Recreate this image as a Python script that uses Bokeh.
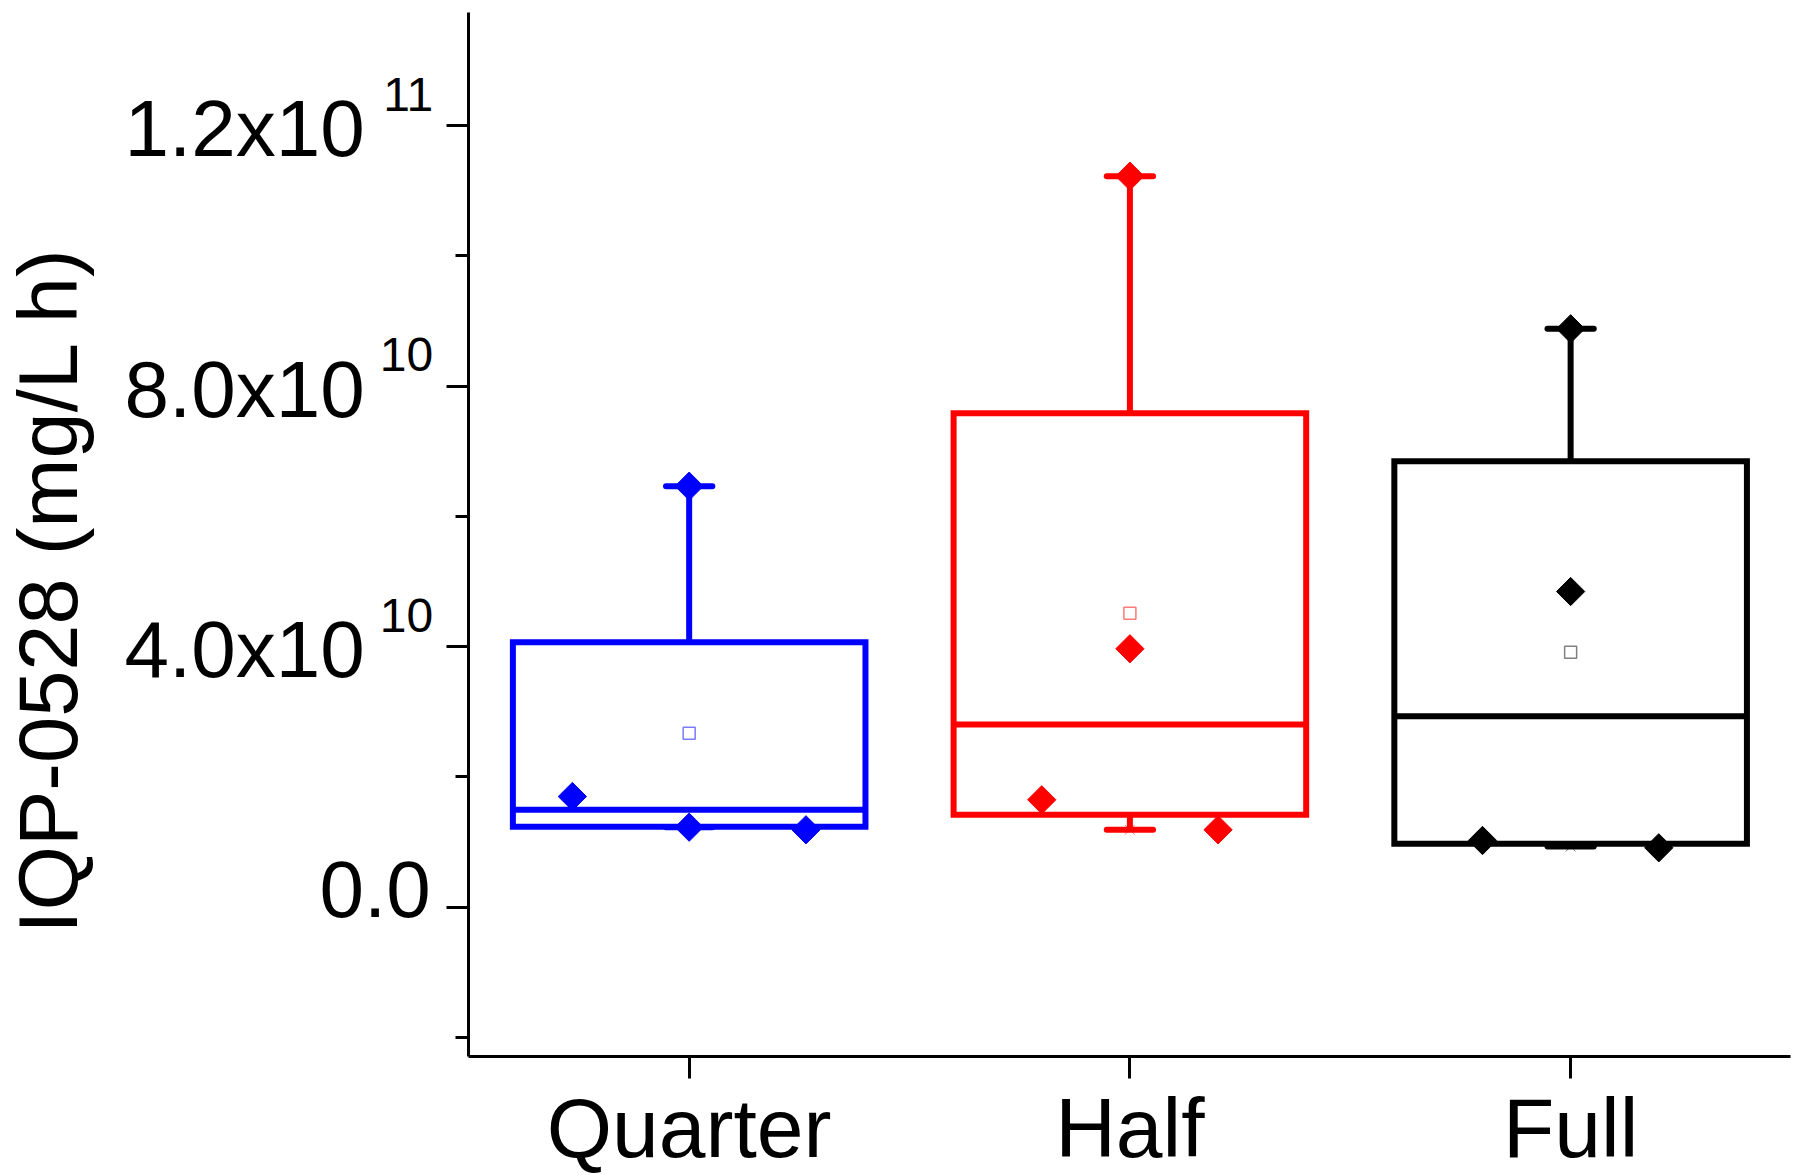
import numpy as np
from bokeh.plotting import figure
from bokeh.models import Range1d, FixedTicker, Label, ColumnDataSource, LinearAxis
from bokeh.embed import file_html
from bokeh.resources import INLINE

# ---------------- data ----------------
categories = ["Quarter", "Half", "Full"]
box_colors = ["#0000ff", "#ff0000", "#000000"]
mean_colors = ["#7a7aff", "#ff7a7a", "#808080"]

q1 = [1.235e10, 1.418e10, 9.73e9]
median = [1.495e10, 2.805e10, 2.932e10]
q3 = [4.068e10, 7.583e10, 6.847e10]
whisker_low = [1.228e10, 1.188e10, 9.3e9]
whisker_high = [6.463e10, 1.1222e11, 8.879e10]
mean = [2.671e10, 4.513e10, 3.914e10]

quarter_points = [6.463e10, 1.699e10, 1.228e10, 1.188e10]
quarter_jitter = [0.0, -0.265, 0.0, 0.265]
half_points = [1.1222e11, 3.967e10, 1.649e10, 1.188e10]
half_jitter = [0.0, 0.0, -0.2, 0.2]
full_points = [8.879e10, 4.846e10, 1.024e10, 9.12e9]
full_jitter = [0.0, 0.0, -0.2, 0.2]

y_ticks = [0, 4e10, 8e10, 1.2e11]
y_minor_ticks = [-2e10, 2e10, 6e10, 1e11]
y_tick_mantissa = ["0.0", "4.0", "8.0", "1.2"]
y_tick_exponent = ["", "10", "10", "11"]
y_title = "IQP-0528 (mg/L h)"

# ---------------- layout constants ----------------
# visible axes extents (data units)
AX_X0, AX_X1 = 0.5, 3.5
AX_Y0, AX_Y1 = -2.29e10, 1.3734e11
# whole-figure frame ranges (so that texts outside the axes are not clipped)
X_RANGE = (-0.56256, 3.52156)
Y_RANGE = (-4.1187e10, 1.39187e11)
TITLE_Y = 4.87e10
BOX_W = 0.8
CAP_W = 0.105
FONT = "Liberation Sans"

p = figure(width=1800, height=1175,
           x_range=Range1d(*X_RANGE), y_range=Range1d(*Y_RANGE),
           x_axis_location=None, y_axis_location=None,
           output_backend="svg", toolbar_location=None,
           min_border_left=0, min_border_right=0,
           min_border_top=0, min_border_bottom=0)
p.grid.visible = False
p.outline_line_color = None
p.background_fill_color = "white"
p.border_fill_color = "white"

cat_x = [i + 1 for i in range(len(categories))]

yax = LinearAxis(fixed_location=AX_X0, bounds=(AX_Y0, AX_Y1),
                 ticker=FixedTicker(ticks=y_ticks, minor_ticks=y_minor_ticks))
xax = LinearAxis(fixed_location=AX_Y0, bounds=(AX_X0, AX_X1),
                 ticker=FixedTicker(ticks=cat_x, minor_ticks=[]))
for ax in (xax, yax):
    ax.axis_line_width = 3
    ax.axis_line_color = "black"
    ax.major_tick_line_width = 3
    ax.minor_tick_line_width = 3
    ax.major_tick_out = 22
    ax.major_tick_in = 0
    ax.minor_tick_in = 0
    ax.major_label_text_color = None
    ax.major_label_text_font_size = "1px"
    ax.major_label_standoff = 0
yax.minor_tick_out = 13
xax.minor_tick_line_color = None
p.add_layout(yax, "left")
p.add_layout(xax, "below")

# boxes
src = ColumnDataSource(dict(
    x=cat_x,
    left=[c - BOX_W / 2 for c in cat_x],
    right=[c + BOX_W / 2 for c in cat_x],
    cap_l=[c - CAP_W / 2 for c in cat_x],
    cap_r=[c + CAP_W / 2 for c in cat_x],
    q1=q1, q3=q3, med=median, lo=whisker_low, hi=whisker_high,
    mean=mean, color=box_colors, mcolor=mean_colors,
))

p.segment(x0="x", y0="q3", x1="x", y1="hi", source=src, line_color="color", line_width=6)
p.segment(x0="x", y0="q1", x1="x", y1="lo", source=src, line_color="color", line_width=6)
p.segment(x0="cap_l", y0="hi", x1="cap_r", y1="hi", source=src, line_color="color",
          line_width=6, line_cap="round")
p.segment(x0="cap_l", y0="lo", x1="cap_r", y1="lo", source=src, line_color="color",
          line_width=6, line_cap="round")
p.quad(left="left", right="right", bottom="q1", top="q3", source=src,
       fill_color=None, line_color="color", line_width=6, line_join="miter")
p.segment(x0="left", y0="med", x1="right", y1="med", source=src, line_color="color", line_width=6)

# min/max markers
p.scatter(x="x", y="lo", source=src, marker="x", size=14, line_color="color",
          line_width=1, line_alpha=0.5)

# mean markers
p.scatter(x="x", y="mean", source=src, marker="square", size=12, fill_color="white",
          line_color="mcolor", line_width=1.5)

# data points
groups = [(quarter_points, quarter_jitter), (half_points, half_jitter), (full_points, full_jitter)]
for c, col, (pts, jit) in zip(cat_x, box_colors, groups):
    p.scatter(x=[c + j for j in jit], y=pts, marker="square", angle=np.pi / 4,
              size=20, fill_color=col, line_color=col, line_width=1)

# y tick labels (with superscript exponents)
for t, m, e in zip(y_ticks, y_tick_mantissa, y_tick_exponent):
    if e:
        p.add_layout(Label(x=AX_X0, y=t, text=f"{m}x10", x_offset=-104, y_offset=-3.3,
                           text_align="right", text_baseline="alphabetic",
                           text_font=FONT, text_font_size="80px", text_color="black"))
        p.add_layout(Label(x=AX_X0, y=t, text=e, x_offset=-35.7, y_offset=31.2,
                           text_align="right", text_baseline="alphabetic",
                           text_font=FONT, text_font_size="48px", text_color="black"))
    else:
        p.add_layout(Label(x=AX_X0, y=t, text=m, x_offset=-38, y_offset=18,
                           text_align="right", text_baseline="alphabetic",
                           text_font=FONT, text_font_size="80px", text_color="black"))

# category labels
for c, name in zip(cat_x, categories):
    p.add_layout(Label(x=c, y=AX_Y0, text=name, y_offset=-71.9,
                       text_align="center", text_baseline="alphabetic",
                       text_font=FONT, text_font_size="84px", text_color="black"))

# y title
p.add_layout(Label(x=AX_X0, y=TITLE_Y, text=y_title, angle=np.pi / 2, x_offset=-420.3,
                   text_align="center", text_baseline="alphabetic",
                   text_font=FONT, text_font_size="83px", text_color="black"))

open("out.html", "w").write(file_html(p, INLINE))
